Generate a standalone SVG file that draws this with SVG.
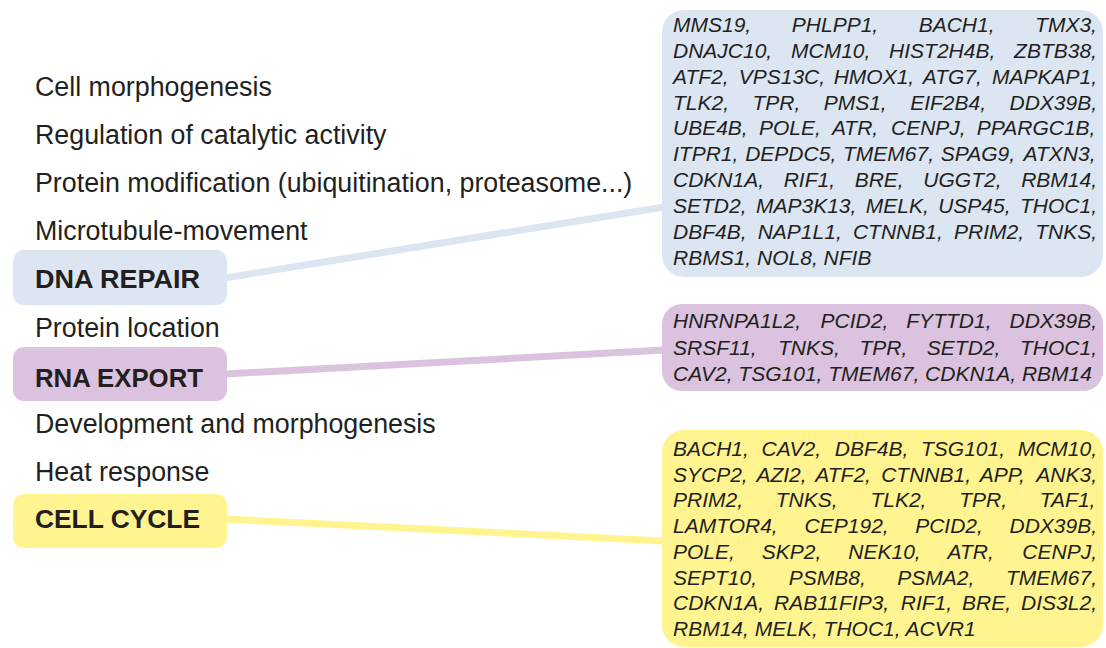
<svg xmlns="http://www.w3.org/2000/svg" width="1106" height="648" viewBox="0 0 1106 648">
  <style>
    .term { font-family: "Liberation Sans", Arial, sans-serif; font-size: 26.8px; fill: #231f20; }
    .cat { font-family: "Liberation Sans", Arial, sans-serif; font-size: 26.5px; font-weight: bold; fill: #231f20; }
    .genes { font-family: "Liberation Sans", Arial, sans-serif; font-size: 21px; font-style: italic; fill: #231f20; }
    .blue { fill: #dce6f2; }
    .purple { fill: #dbc2de; }
    .yellow { fill: #fff48f; }
    .link { fill: none; stroke-width: 7; stroke-linecap: butt; }
  </style>

  <rect width="1106" height="648" fill="#ffffff"/>

  <!-- connectors between category labels and gene lists -->
  <g id="connectors">
    <line class="link" x1="225" y1="278" x2="664" y2="207" stroke="#dce6f2"/>
    <line class="link" x1="225" y1="374" x2="664" y2="350" stroke="#dbc2de"/>
    <line class="link" x1="225" y1="519" x2="664" y2="541" stroke="#fff48f"/>
  </g>

  <!-- plain GO terms on the left -->
  <g id="terms">
    <text class="term" x="35" y="96">Cell morphogenesis</text>
    <text class="term" x="35" y="144">Regulation of catalytic activity</text>
    <text class="term" x="35" y="192">Protein modification (ubiquitination, proteasome...)</text>
    <text class="term" x="35" y="240">Microtubule-movement</text>
    <text class="term" x="35" y="337">Protein location</text>
    <text class="term" x="35" y="433">Development and morphogenesis</text>
    <text class="term" x="35" y="481">Heat response</text>
  </g>

  <!-- highlighted categories -->
  <g id="dna-repair">
    <rect class="blue" x="13" y="250" width="214" height="55" rx="11"/>
    <text class="cat" x="35" y="288" textLength="165" lengthAdjust="spacingAndGlyphs">DNA REPAIR</text>
  </g>
  <g id="rna-export">
    <rect class="purple" x="13" y="347" width="214" height="54" rx="11"/>
    <text class="cat" x="35" y="387" textLength="168" lengthAdjust="spacingAndGlyphs">RNA EXPORT</text>
  </g>
  <g id="cell-cycle">
    <rect class="yellow" x="13" y="494" width="214" height="54" rx="11"/>
    <text class="cat" x="35" y="528" textLength="165" lengthAdjust="spacingAndGlyphs">CELL CYCLE</text>
  </g>

  <!-- gene lists, justified word by word -->
  <g id="dna-repair-genes">
    <rect class="blue" x="662" y="10" width="441" height="267" rx="22"/>
    <text class="genes">
      <tspan x="673" y="32">MMS19,</tspan><tspan x="791.8" y="32">PHLPP1,</tspan><tspan x="918.7" y="32">BACH1,</tspan><tspan x="1035.1" y="32">TMX3,</tspan>
      <tspan x="673" y="58">DNAJC10,</tspan><tspan x="791" y="58">MCM10,</tspan><tspan x="889.1" y="58">HIST2H4B,</tspan><tspan x="1014.1" y="58">ZBTB38,</tspan>
      <tspan x="673" y="84">ATF2,</tspan><tspan x="738.7" y="84">VPS13C,</tspan><tspan x="833.7" y="84">HMOX1,</tspan><tspan x="922.7" y="84">ATG7,</tspan><tspan x="992" y="84">MAPKAP1,</tspan>
      <tspan x="673" y="110">TLK2,</tspan><tspan x="752.5" y="110">TPR,</tspan><tspan x="823.7" y="110">PMS1,</tspan><tspan x="910.2" y="110">EIF2B4,</tspan><tspan x="1009.5" y="110">DDX39B,</tspan>
      <tspan x="673" y="135">UBE4B,</tspan><tspan x="758.9" y="135">POLE,</tspan><tspan x="831.9" y="135">ATR,</tspan><tspan x="891" y="135">CENPJ,</tspan><tspan x="976.8" y="135">PPARGC1B,</tspan>
      <tspan x="673" y="161">ITPR1,</tspan><tspan x="745.2" y="161">DEPDC5,</tspan><tspan x="843" y="161">TMEM67,</tspan><tspan x="940.8" y="161">SPAG9,</tspan><tspan x="1023.5" y="161">ATXN3,</tspan>
      <tspan x="673" y="187">CDKN1A,</tspan><tspan x="783.7" y="187">RIF1,</tspan><tspan x="854.7" y="187">BRE,</tspan><tspan x="923.3" y="187">UGGT2,</tspan><tspan x="1021.2" y="187">RBM14,</tspan>
      <tspan x="673" y="213">SETD2,</tspan><tspan x="756" y="213">MAP3K13,</tspan><tspan x="865.8" y="213">MELK,</tspan><tspan x="938.2" y="213">USP45,</tspan><tspan x="1020" y="213">THOC1,</tspan>
      <tspan x="673" y="239">DBF4B,</tspan><tspan x="757.7" y="239">NAP1L1,</tspan><tspan x="852.9" y="239">CTNNB1,</tspan><tspan x="954" y="239">PRIM2,</tspan><tspan x="1035.2" y="239">TNKS,</tspan>
      <tspan x="673" y="265">RBMS1, NOL8, NFIB</tspan>
    </text>
  </g>

  <g id="rna-export-genes">
    <rect class="purple" x="662" y="304" width="441" height="87" rx="20"/>
    <text class="genes">
      <tspan x="673" y="328">HNRNPA1L2,</tspan><tspan x="820.6" y="328">PCID2,</tspan><tspan x="906.3" y="328">FYTTD1,</tspan><tspan x="1009.5" y="328">DDX39B,</tspan>
      <tspan x="673" y="354.5">SRSF11,</tspan><tspan x="777.9" y="354.5">TNKS,</tspan><tspan x="859.4" y="354.5">TPR,</tspan><tspan x="926.8" y="354.5">SETD2,</tspan><tspan x="1020" y="354.5">THOC1,</tspan>
      <tspan x="673" y="381">CAV2, TSG101, TMEM67, CDKN1A, RBM14</tspan>
    </text>
  </g>

  <g id="cell-cycle-genes">
    <rect class="yellow" x="662" y="430" width="441" height="217" rx="22"/>
    <text class="genes">
      <tspan x="673" y="456">BACH1,</tspan><tspan x="761.5" y="456">CAV2,</tspan><tspan x="834.8" y="456">DBF4B,</tspan><tspan x="921" y="456">TSG101,</tspan><tspan x="1017.7" y="456">MCM10,</tspan>
      <tspan x="673" y="481.7">SYCP2,</tspan><tspan x="756.4" y="481.7">AZI2,</tspan><tspan x="815.3" y="481.7">ATF2,</tspan><tspan x="881.2" y="481.7">CTNNB1,</tspan><tspan x="979.8" y="481.7">APP,</tspan><tspan x="1036.3" y="481.7">ANK3,</tspan>
      <tspan x="673" y="507.4">PRIM2,</tspan><tspan x="775.8" y="507.4">TNKS,</tspan><tspan x="870.4" y="507.4">TLK2,</tspan><tspan x="959.2" y="507.4">TPR,</tspan><tspan x="1039.8" y="507.4">TAF1,</tspan>
      <tspan x="673" y="533.1">LAMTOR4,</tspan><tspan x="804.6" y="533.1">CEP192,</tspan><tspan x="915.2" y="533.1">PCID2,</tspan><tspan x="1009.5" y="533.1">DDX39B,</tspan>
      <tspan x="673" y="558.8">POLE,</tspan><tspan x="761.8" y="558.8">SKP2,</tspan><tspan x="848.3" y="558.8">NEK10,</tspan><tspan x="947.6" y="558.8">ATR,</tspan><tspan x="1022.3" y="558.8">CENPJ,</tspan>
      <tspan x="673" y="584.5">SEPT10,</tspan><tspan x="788.7" y="584.5">PSMB8,</tspan><tspan x="897.3" y="584.5">PSMA2,</tspan><tspan x="1006" y="584.5">TMEM67,</tspan>
      <tspan x="673" y="610.2">CDKN1A,</tspan><tspan x="774" y="610.2">RAB11FIP3,</tspan><tspan x="900.8" y="610.2">RIF1,</tspan><tspan x="962.1" y="610.2">BRE,</tspan><tspan x="1021.1" y="610.2">DIS3L2,</tspan>
      <tspan x="673" y="635.9">RBM14, MELK, THOC1, ACVR1</tspan>
    </text>
  </g>
</svg>
